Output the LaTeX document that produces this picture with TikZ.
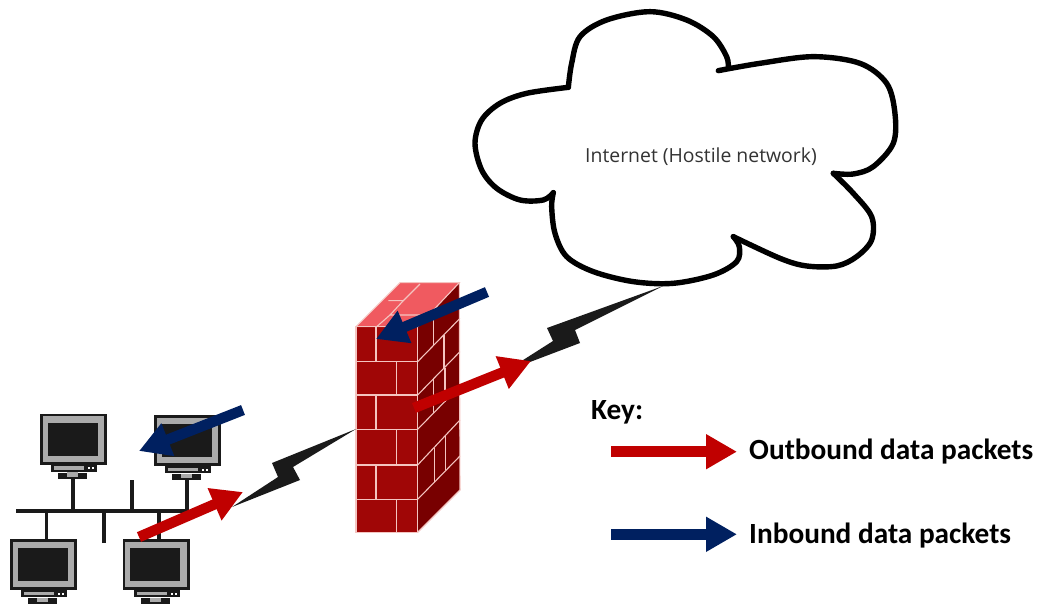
\documentclass[tikz,border=0pt]{standalone}
\usepackage{fontspec}
\setmainfont{Carlito}
\newfontfamily\cloudfont{Open Sans}
\usetikzlibrary{arrows.meta,calc}
\definecolor{inred}{HTML}{C00000}
\definecolor{inblue}{HTML}{002060}
\definecolor{scr}{HTML}{1A1A1A}
\definecolor{mon}{HTML}{ABABAB}
\definecolor{brickf}{HTML}{A00606}
\definecolor{bricks}{HTML}{780000}
\definecolor{brickt}{HTML}{F05A60}
\definecolor{mortar}{HTML}{F4C4C0}
\tikzset{
  x=1pt,y=-1pt,
  outarrow/.style={-{Triangle[length=31pt,width=33pt]},line width=10.5pt,inred},
  inarrow/.style={-{Triangle[length=31pt,width=33pt]},line width=10.5pt,inblue},
  cable/.style={line width=3.2pt,scr},
  bolt/.style={fill=scr,draw=none},
  brick/.style={line width=1.1pt,mortar},
  keytext/.style={font=\bfseries\fontsize{29.3}{32}\selectfont,anchor=base west,inner sep=0pt,text=black},
  lobe/.style={line width=5.4pt,black,line join=round,line cap=round},
  monitor/.pic={
    \fill[scr] (0,0) rectangle (67,51);
    \fill[mon] (2.8,2.8) rectangle (64.2,48.2);
    \fill[scr] (7.5,9) rectangle (57.5,42);
    \fill[scr] (11,51) rectangle (57,58);
    \fill[mon] (14,52.5) rectangle (44,56);
    \fill[white] (48,53.5) rectangle (50,55.5);
    \fill[white] (52,53.5) rectangle (54,55.5);
    \fill[scr] (18,59) rectangle (47,65);
    \fill[mon] (27,58.5) rectangle (38,63);
    \coordinate (-top) at (36.5,0);
    \coordinate (-bot) at (33,65);
  }
}
\begin{document}
\begin{tikzpicture}
\useasboundingbox (0,0) rectangle (1040,604);
% monitors
\pic (pca) at (40,413.5) {monitor};
\pic (pcb) at (154,415) {monitor};
\pic (pcc) at (10,539) {monitor};
\pic (pcd) at (122.5,539) {monitor};
% bus
\coordinate (busl) at (16,511);
\coordinate (busr) at (188,511);
\draw[cable] (busl) -- (busr);
\draw[cable] (pca-bot) -- (pca-bot |- busl);
\draw[cable] (pcb-bot) -- (pcb-bot |- busl);
\draw[cable] (pcc-top) -- (pcc-top |- busl);
\draw[cable] (pcd-top) -- (pcd-top |- busl);
\coordinate (stuba) at (132,480);
\coordinate (stubb) at (104,543);
\draw[cable] (stuba) -- (stuba |- busl);
\draw[cable] (stubb) -- (stubb |- busl);
% firewall
\fill[brickf] (356,327) rectangle (418,532);
\fill[bricks] (418,327) -- (459,283) -- (460,490) -- (418,532) -- cycle;
\fill[brickt] (356,327) -- (400,283) -- (459,283) -- (418,327) -- cycle;
\begin{scope}[shift={(340,270)},x=0.3333pt,y=-0.3333pt]
 \draw[brick] (48,170) rectangle (233,787);
 \draw[brick] (48,170) -- (180,38) -- (358,38) -- (233,170);
 \draw[brick] (358,38) -- (360,660) -- (233,787);
 \draw[brick] (48,275) -- (233,275) (48,375) -- (233,375) (48,478) -- (233,478) (48,585) -- (233,585) (48,688) -- (233,688);
 \draw[brick] (108,170) -- (108,275) (170,275) -- (170,375) (108,375) -- (108,478) (170,478) -- (170,585) (108,585) -- (108,688) (170,688) -- (170,787);
 \draw[brick] (233,275) -- (360,145) (233,375) -- (360,245) (233,478) -- (360,348) (233,585) -- (360,450) (233,688) -- (360,558);
 \draw[brick] (280,130) -- (280,225) (312,195) -- (312,298) (280,325) -- (280,430) (315,295) -- (315,395) (283,535) -- (283,635) (317,495) -- (317,600);
 \draw[brick] (110,170) -- (150,135) -- (240,135) (145,92) -- (190,92) (240,42) -- (190,92) (150,135) -- (190,92);
\end{scope}
% lightning bolts
\coordinate (fwl) at (356,429);
\coordinate (lana) at (232,507);
\coordinate (cloudb) at (663,286);
\coordinate (fwr) at (520,362);
\fill[bolt] (fwl) -- (272,463) -- (278,477) -- (lana) -- (300,480) -- (293,467) -- cycle;
\fill[bolt] (cloudb) -- (547,328) -- (553,341) -- (fwr) -- (530,362) -- (580,343) -- (575,330) -- cycle;
% cloud
\begin{scope}[shift={(460,0)},x=0.3333pt,y=-0.3333pt]
 \draw[lobe] plot[smooth,tension=0.55] coordinates {(325,262) (335,190) (360,110) (440,60) (570,35) (680,60) (760,110) (800,170) (805,205)};
 \draw[lobe] plot[smooth,tension=0.55] coordinates {(775,212) (900,190) (1060,170) (1200,190) (1280,250) (1305,340) (1300,430) (1240,500) (1180,522) (1120,520)};
 \draw[lobe] plot[smooth,tension=0.55] coordinates {(1120,520) (1180,580) (1235,650) (1235,720) (1190,770) (1130,798) (1040,798) (960,775) (820,710)};
 \draw[lobe] plot[smooth,tension=0.55] coordinates {(820,710) (838,740) (830,785) (760,825) (640,850) (520,845) (400,815) (320,770) (285,700) (275,620) (280,578)};
 \draw[lobe] plot[smooth,tension=0.55] coordinates {(280,578) (250,600) (180,600) (110,565) (65,510) (45,430) (65,360) (120,310) (200,280) (325,262)};
\end{scope}
\node[font=\cloudfont\fontsize{19.4}{22}\selectfont,text=black!80,inner sep=0pt] (inet) at (701,157) {Internet (Hostile network)};
% arrows on the network
\coordinate (ra) at (139,537); \coordinate (rb) at (243,492);
\coordinate (ba) at (243,410); \coordinate (bb) at (139,451);
\coordinate (rc) at (414,408); \coordinate (rd) at (531,361);
\coordinate (bc) at (487,292); \coordinate (bd) at (376,339);
\draw[outarrow] (ra) -- (rb);
\draw[outarrow] (rc) -- (rd);
\draw[inarrow] (ba) -- (bb);
\draw[inarrow] (bc) -- (bd);
% key
\node[keytext] (keyl) at (591,419) {Key:};
\node[keytext] (kout) at (749,459.5) {Outbound data packets};
\node[keytext] (kin) at (749,543) {Inbound data packets};
\coordinate (kra) at (611,451.7);
\coordinate (krb) at (737,451.7);
\coordinate (kba) at (611,534.3);
\coordinate (kbb) at (737,534.3);
\draw[outarrow] (kra) -- (krb);
\draw[inarrow] (kba) -- (kbb);
\end{tikzpicture}
\end{document}
